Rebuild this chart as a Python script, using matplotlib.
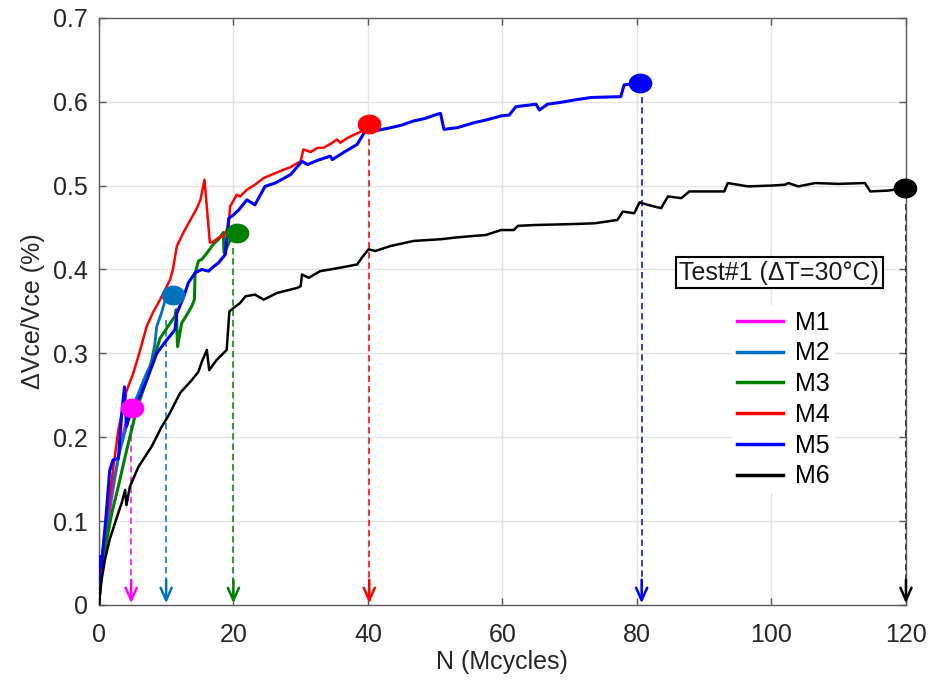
import numpy as np
import matplotlib
matplotlib.use("Agg")
import matplotlib.pyplot as plt
from matplotlib.path import Path
from matplotlib.transforms import Affine2D
from matplotlib.ticker import FuncFormatter

plt.rcParams['font.family'] = ['Liberation Sans', 'DejaVu Sans']

# --- degradation curves, N in Mcycles vs dVce/Vce in % ---
m1_x = [0, 0.5, 1.0, 1.5, 2.0, 2.5, 3.0, 3.6, 4.0, 4.4, 4.9]
m1_y = [0, 0.045, 0.075, 0.105, 0.13, 0.155, 0.178, 0.205, 0.218, 0.228, 0.235]

m2_x = [0, 0.5, 1, 1.5, 2, 3, 4, 5, 6, 7, 7.6, 7.85, 8.3, 8.6, 9.3, 9.8, 10.4, 11.0]
m2_y = [0, 0.05, 0.085, 0.115, 0.14, 0.18, 0.21, 0.235, 0.255, 0.275, 0.285, 0.292,
        0.31, 0.332, 0.348, 0.362, 0.366, 0.369]

m3_x = [0, 0.15, 1, 1.9, 3, 3.9, 5.6, 7.6, 9.1, 10.6, 11.3, 11.5, 11.7, 12.3, 13.0,
        13.8, 14.2, 14.3, 14.8, 15.3, 16.3, 17.0, 17.8, 18.5, 18.6, 18.8, 19.5, 20.5]
m3_y = [0, 0.022, 0.07, 0.109, 0.145, 0.177, 0.233, 0.28, 0.318, 0.336, 0.344, 0.352,
        0.308, 0.336, 0.345, 0.356, 0.364, 0.395, 0.410, 0.412, 0.422, 0.430, 0.436,
        0.444, 0.42, 0.422, 0.435, 0.443]

m4_x = [0, 0.4, 1.0, 1.9, 2.9, 4.1, 5.1, 6.0, 7.1, 8.0, 9.1, 10.6, 11.0, 11.6, 12.5,
        13.6, 14.5, 15.1, 15.7, 16.5, 17.0, 17.8, 18.5, 19.3, 19.5, 20.5, 21.0, 22.0,
        23.2, 24.5, 25.7, 27.5, 28.5, 30.0, 30.4, 31.5, 32.5, 33.4, 34.5, 35.4, 35.9,
        37.0, 38.6, 39.5, 40.2]
m4_y = [0, 0.054, 0.095, 0.149, 0.209, 0.255, 0.276, 0.300, 0.332, 0.348, 0.364, 0.388,
        0.400, 0.428, 0.443, 0.459, 0.472, 0.483, 0.507, 0.432, 0.433, 0.438, 0.440,
        0.451, 0.475, 0.489, 0.487, 0.495, 0.501, 0.509, 0.513, 0.519, 0.522, 0.529,
        0.543, 0.540, 0.545, 0.545, 0.550, 0.555, 0.551, 0.557, 0.563, 0.566, 0.573]

m5_x = [0, 0.15, 0.35, 1.0, 1.6, 2.1, 2.9, 3.4, 3.8, 4.1, 4.6, 5.9, 7.2, 8.6, 10.0,
        11.3, 11.6, 12.5, 13.3, 14.3, 15.3, 16.3, 17.0, 17.8, 18.8, 19.3, 20.0, 20.8,
        22.0, 23.2, 24.7, 26.2, 28.5, 30.2, 31.0, 32.5, 34.4, 34.7, 36.5, 38.4, 39.6,
        40.9, 43.4, 45.0, 46.8, 48.5, 50.3, 50.8, 51.3, 53.3, 55.8, 57.5, 59.8, 61.0,
        62.0, 65.0, 65.5, 66.7, 68.5, 70.7, 73.2, 77.6, 78.1, 80.5]
m5_y = [0, 0.058, 0.045, 0.10, 0.16, 0.173, 0.175, 0.229, 0.26, 0.213, 0.229, 0.245,
        0.27, 0.300, 0.315, 0.328, 0.348, 0.365, 0.384, 0.396, 0.400, 0.398, 0.403,
        0.408, 0.418, 0.461, 0.465, 0.471, 0.483, 0.477, 0.499, 0.503, 0.513, 0.529,
        0.525, 0.530, 0.535, 0.531, 0.540, 0.549, 0.565, 0.565, 0.569, 0.572, 0.577,
        0.580, 0.585, 0.586, 0.567, 0.569, 0.575, 0.578, 0.583, 0.584, 0.594, 0.597,
        0.590, 0.597, 0.599, 0.602, 0.605, 0.606, 0.620, 0.6225]

m6_x = [0, 0.4, 0.9, 1.6, 2.4, 3.4, 3.9, 4.1, 4.6, 5.9, 7.85, 9.3, 10.3, 12.1, 13.8,
        14.8, 15.3, 16.05, 16.4, 17.5, 19.0, 19.4, 20.0, 21.0, 21.8, 23.2, 24.5, 26.5,
        29.5, 30.0, 30.2, 31.2, 32.9, 34.4, 36.5, 38.4, 39.1, 40.1, 41.1, 43.4, 46.8,
        50.8, 53.0, 55.8, 57.5, 59.8, 61.7, 62.3, 65.0, 70.0, 73.7, 77.1, 77.9, 79.6,
        80.4, 81.6, 83.6, 84.6, 86.6, 87.8, 93.0, 93.5, 96.5, 100.0, 102.0, 102.5,
        104.0, 106.5, 110.0, 113.9, 114.7, 117.4, 119.8]
m6_y = [0, 0.03, 0.054, 0.078, 0.098, 0.122, 0.137, 0.119, 0.141, 0.165, 0.189, 0.212,
        0.225, 0.253, 0.268, 0.278, 0.290, 0.304, 0.280, 0.292, 0.304, 0.350, 0.354,
        0.360, 0.368, 0.370, 0.364, 0.372, 0.378, 0.380, 0.394, 0.390, 0.398, 0.400,
        0.403, 0.406, 0.414, 0.424, 0.422, 0.428, 0.434, 0.436, 0.438, 0.440, 0.441,
        0.447, 0.447, 0.452, 0.453, 0.454, 0.455, 0.459, 0.469, 0.467, 0.480, 0.477,
        0.473, 0.487, 0.485, 0.493, 0.493, 0.503, 0.499, 0.500, 0.501, 0.503, 0.499,
        0.503, 0.502, 0.503, 0.493, 0.494, 0.497]

labels = ['M1', 'M2', 'M3', 'M4', 'M5', 'M6']
colors = ['#FF00FF', '#0072BD', '#008000', '#FF0000', '#0000FF', '#000000']
widths = [1.6, 2.0, 2.2, 1.8, 2.2, 1.8]

# end-of-life arrows down to the N axis
arrow_x = [4.8, 10.0, 20.0, 40.2, 80.7, 120.0]
arrow_top = [0.215, 0.34, 0.425, 0.555, 0.605, 0.478]

xs = [m1_x, m2_x, m3_x, m4_x, m5_x, m6_x]
ys = [m1_y, m2_y, m3_y, m4_y, m5_y, m6_y]

fig = plt.figure(figsize=(9.33, 6.84), dpi=100)
ax = fig.add_axes([0.106, 0.1155, 0.865, 0.8585])

for x, y, c, w, lab in zip(xs, ys, colors, widths, labels):
    ax.plot(x, y, color=c, lw=w, label=lab, zorder=3)

for xa, ya, c in zip(arrow_x, arrow_top, colors):
    ax.plot([xa, xa], [ya, 0.012], color=c, lw=1.3, alpha=0.85,
            dashes=(3.5, 2.2), zorder=2, clip_on=False)
    ax.annotate('', xy=(xa, 0.002), xytext=(xa, 0.03),
                arrowprops=dict(arrowstyle='->,head_length=0.45,head_width=0.2',
                                color=c, lw=1.8, mutation_scale=20,
                                shrinkA=0, shrinkB=0),
                zorder=4, annotation_clip=False)

# elliptical end markers
ell = Path.unit_circle().transformed(Affine2D().scale(1.0, 0.84))
for x, y, c in zip(xs, ys, colors):
    ax.plot(x[-1], y[-1], marker=ell, markersize=17, color=c,
            markeredgewidth=0, linestyle='none', zorder=5, clip_on=False)

ax.set_xlim(0, 120)
ax.set_ylim(0, 0.7)
ax.set_xticks(np.arange(0, 121, 20))
ax.set_yticks(np.arange(0, 0.71, 0.1))
ax.yaxis.set_major_formatter(FuncFormatter(lambda v, p: f'{v:g}'))
ax.grid(True, color='#E3E3E3', lw=1.0, zorder=0)
ax.set_axisbelow(True)

for s in ax.spines.values():
    s.set_color('#5A5A5A')
    s.set_linewidth(1.0)
ax.tick_params(direction='in', length=5, width=1, color='#5A5A5A',
               top=True, right=True, labelsize=18, labelcolor='#262626', pad=8)
ax.tick_params(axis='x', pad=13)

ax.set_xlabel('N (Mcycles)', fontsize=18, color='#262626', labelpad=2)
ax.set_ylabel('ΔVce/Vce (%)', fontsize=18, color='#262626', labelpad=6)

leg = ax.legend(loc='center', bbox_to_anchor=(0.848, 0.350), fontsize=18,
                frameon=True, fancybox=False, edgecolor='none', facecolor='white',
                framealpha=1, handlelength=1.85, handletextpad=0.5,
                labelspacing=0.27, borderpad=0.2)
for h in leg.get_lines():
    h.set_linewidth(2.5)
leg.set_zorder(6)

ax.text(0.843, 0.566, 'Test#1 (ΔT=30°C)', transform=ax.transAxes, fontsize=18,
        ha='center', va='center', color='#1a1a1a', zorder=7,
        bbox=dict(boxstyle='square,pad=0.15', facecolor='white',
                  edgecolor='black', lw=1.5))

fig.savefig('out.png', dpi=100)
